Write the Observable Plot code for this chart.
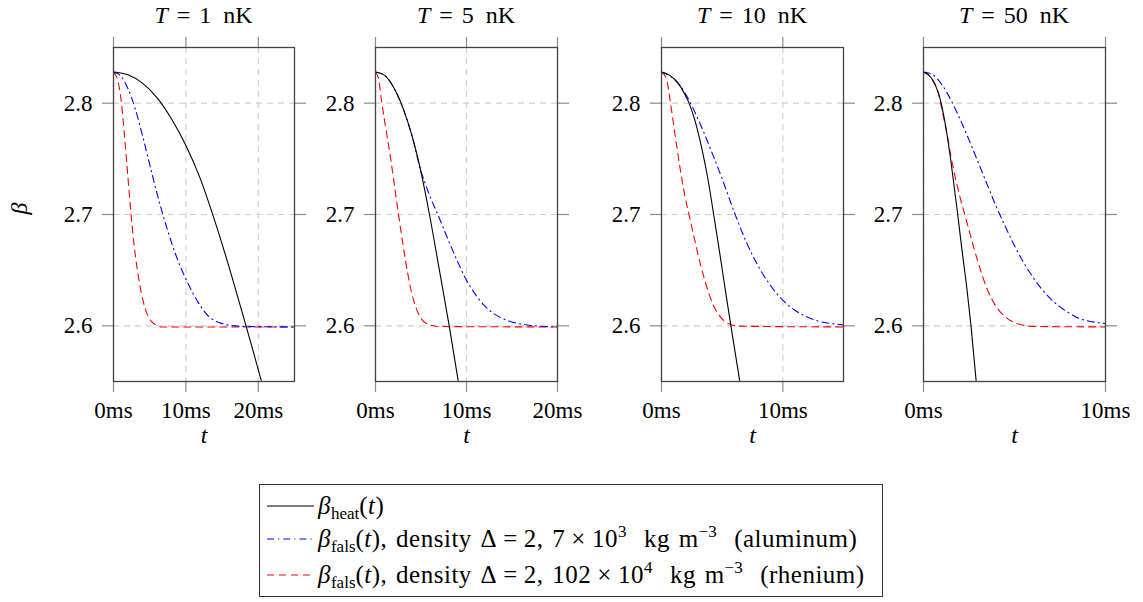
<!DOCTYPE html>
<html><head><meta charset="utf-8">
<script src="https://cdn.jsdelivr.net/npm/d3@7"></script>
<script src="https://cdn.jsdelivr.net/npm/@observablehq/plot@0.6"></script>
<style>
body{margin:0;background:#fff;color:#000;font-family:"Liberation Serif","Times New Roman",serif;}
#root{position:relative;width:1143px;height:602px;overflow:hidden;}
.title{position:absolute;top:3px;width:240px;font-size:24px;line-height:24px;text-align:center;white-space:nowrap;}
.title .eq{margin:0 9px;}
.plot{position:absolute;top:0;}
.legend{position:absolute;left:259px;top:484px;width:622px;height:111px;border:1px solid #333;font-size:25px;}
.row{position:absolute;left:0;height:30px;display:flex;align-items:center;white-space:nowrap;}
.row svg{margin-left:7px;margin-right:4px;}
.row > span{letter-spacing:0.5px;word-spacing:2px;}
.sb{font-size:17px;position:relative;top:5px;letter-spacing:0;}
.sp{font-size:17px;position:relative;top:-10px;letter-spacing:0;}
.op{margin:0 6px;}
</style></head><body><div id="root"></div><script>
// ---- data ----
const temps = [1, 5, 10, 50];                 // nK
const xMax = [25, 20, 15, 10];                // ms
const xTicks = [[0, 10, 20], [0, 10, 20], [0, 10], [0, 10]];
const yTicks = [2.6, 2.7, 2.8];

// T = 1 nK
const heatT1 = [[0,2.828],[2,2.8255],[4,2.818],[6,2.805],[8,2.786],[10,2.762],[12,2.732],[14,2.694],[16,2.652],[18,2.607],[19,2.584],[20.4,2.551]];
const alT1 = [[0,2.828],[1,2.8245],[2,2.813],[3,2.795],[4,2.771],[5,2.745],[6,2.719],[7,2.696],[8,2.675],[9,2.657],[10,2.642],[11,2.629],[12,2.618],[13,2.6095],[14,2.6045],[15,2.602],[16,2.6005],[18,2.5995],[25,2.599]];
const reT1 = [[0,2.828],[0.6,2.820],[1.1,2.800],[1.5,2.772],[2.0,2.733],[2.4,2.702],[2.8,2.675],[3.3,2.650],[3.8,2.631],[4.4,2.615],[5.0,2.606],[5.8,2.601],[6.6,2.599],[25,2.599]];
// T = 5 nK
const heatT5 = [[0,2.828],[1.0,2.825],[2.0,2.814],[3.0,2.796],[4.0,2.771],[5.0,2.738],[5.93,2.700],[7.0,2.651],[8.1,2.600],[9.08,2.551]];
const alT5 = [[0,2.828],[1.0,2.825],[2.0,2.814],[3.0,2.796],[4.0,2.771],[5.0,2.739],[5.5,2.727],[6.0,2.716],[6.9,2.699],[8.0,2.677],[9.0,2.658],[10.0,2.641],[11.0,2.628],[12.0,2.618],[13.0,2.611],[14.0,2.6065],[15.0,2.6035],[16.5,2.601],[18,2.5997],[20,2.599]];
const reT5 = [[0,2.828],[0.35,2.821],[0.7,2.800],[1.2,2.774],[1.69,2.749],[2.1,2.725],[2.53,2.700],[3.04,2.672],[3.52,2.648],[3.96,2.630],[4.51,2.615],[5.05,2.606],[5.79,2.6015],[6.89,2.5994],[20,2.599]];
// T = 10 nK
const heatT10 = [[0,2.828],[0.68,2.825],[1.37,2.818],[1.92,2.808],[2.27,2.800],[2.74,2.785],[3.29,2.761],[3.84,2.731],[4.30,2.700],[4.79,2.666],[5.29,2.630],[5.75,2.598],[6.44,2.551]];
const alT10 = [[0,2.828],[1,2.822],[2,2.808],[3,2.786],[4,2.760],[5,2.732],[6,2.702],[7,2.675],[8,2.653],[9,2.636],[10,2.623],[11,2.614],[12,2.608],[13,2.604],[14,2.602],[15,2.601]];
const reT10 = [[0,2.828],[0.4,2.822],[0.74,2.800],[1.10,2.773],[1.51,2.743],[1.92,2.717],[2.33,2.697],[2.74,2.677],[3.15,2.658],[3.70,2.636],[4.25,2.619],[4.79,2.609],[5.48,2.602],[6.44,2.5997],[15,2.599]];
// T = 50 nK
const heatT50 = [[0,2.828],[0.46,2.822],[0.82,2.809],[0.97,2.800],[1.28,2.773],[1.52,2.746],[1.74,2.718],[1.88,2.700],[2.10,2.670],[2.38,2.634],[2.61,2.600],[2.89,2.551]];
const alT50 = [[0,2.828],[0.5,2.8255],[1,2.817],[1.5,2.803],[2,2.786],[2.5,2.767],[3,2.747],[3.5,2.727],[4,2.707],[4.5,2.689],[5,2.672],[5.5,2.657],[6,2.644],[6.5,2.633],[7,2.624],[7.5,2.617],[8,2.6115],[8.5,2.607],[9,2.6045],[9.5,2.603],[10,2.602]];
const reT50 = [[0,2.828],[0.46,2.822],[0.82,2.809],[1.0,2.795],[1.25,2.776],[1.5,2.753],[1.75,2.733],[2.0,2.716],[2.25,2.701],[2.5,2.686],[2.75,2.671],[3.0,2.657],[3.5,2.633],[4.0,2.617],[4.5,2.608],[5.0,2.603],[5.5,2.6005],[6.0,2.5995],[10,2.599]];

const heat = [heatT1, heatT5, heatT10, heatT50];
const alu = [alT1, alT5, alT10, alT50];
const rhe = [reT1, reT5, reT10, reT50];

// ---- layout ----
const FONT = '"Liberation Serif", "Times New Roman", serif';
const frameL = [113, 375, 661, 923];
const frameW = [181, 182, 182, 182];
const root = document.getElementById("root");
const grid = {stroke: "#cfcfcf", strokeOpacity: 1, strokeWidth: 1.2, strokeDasharray: "6,5"};
const tickStroke = "#8a8a8a";

function panel(i) {
  const mL = i === 0 ? 113 : 60, mR = 20;
  const fw = frameW[i];
  const xy = {x: d => d[0], y: d => d[1], curve: "monotone-x", clip: true, strokeWidth: 1.1};
  const marks = [
    Plot.gridX(xTicks[i], grid),
    Plot.gridY(yTicks, grid),
    Plot.axisY(yTicks, {anchor: "left", tickSize: 11, tickPadding: 10, stroke: tickStroke, strokeWidth: 1.2, fill: "black", tickFormat: d => d.toFixed(1), label: null}),
    Plot.axisY(yTicks, {anchor: "right", tickSize: 11, stroke: tickStroke, strokeWidth: 1.2, tickFormat: () => "", label: null}),
    Plot.axisX(xTicks[i], {anchor: "bottom", tickSize: 11, tickPadding: 9, stroke: tickStroke, strokeWidth: 1.2, fill: "black", tickFormat: d => d + "ms", label: null}),
    Plot.axisX(xTicks[i], {anchor: "top", tickSize: 11, stroke: tickStroke, strokeWidth: 1.2, tickFormat: () => "", label: null}),
    Plot.line(rhe[i], {...xy, stroke: "#ff0000", strokeDasharray: "7,5"}),
    Plot.line(alu[i], {...xy, stroke: "#0000ff", strokeDasharray: "7,4,1.2,4"}),
    Plot.line(heat[i], {...xy, stroke: "#000"}),
    Plot.frame({stroke: "#444", strokeWidth: 1.3}),
    Plot.text(["t"], {frameAnchor: "bottom", dy: 61, fontStyle: "italic", fill: "black", fontSize: 24})
  ];
  if (i === 0) marks.push(Plot.text(["β"], {frameAnchor: "left", dx: -94, rotate: -90, fontStyle: "italic", fill: "black", fontSize: 24}));
  const svg = Plot.plot({
    width: mL + fw + mR, height: 460,
    marginLeft: mL, marginRight: mR, marginTop: 47, marginBottom: 79,
    style: {background: "transparent", overflow: "visible", fontSize: "23px", color: "black", maxWidth: "none"},
    x: {domain: [0, xMax[i]], axis: null},
    y: {domain: [2.55, 2.85], axis: null},
    marks
  });
  svg.classList.add("plot");
  svg.style.left = (frameL[i] - mL) + "px";
  svg.style.fontFamily = FONT;
  svg.setAttribute("font-family", FONT);
  root.appendChild(svg);
  const t = document.createElement("div");
  t.className = "title";
  t.style.left = (frameL[i] + fw / 2 - 120) + "px";
  t.innerHTML = `<i>T</i><span class="eq">=</span>${temps[i]}&nbsp; nK`;
  root.appendChild(t);
}
for (let i = 0; i < 4; i++) panel(i);

// ---- legend ----
const legendItems = [
  {stroke: "#000", dash: null, html: `<i>β</i><span class="sb">heat</span>(<i>t</i>)`},
  {stroke: "#0000ff", dash: "7,4,1.2,4", html: `<i>β</i><span class="sb">fals</span>(<i>t</i>), density Δ<span class="op">=</span>2, 7<span class="op">×</span>10<span class="sp">3</span>&nbsp; kg m<span class="sp">−3</span>&nbsp; (aluminum)`},
  {stroke: "#ff0000", dash: "7,5", html: `<i>β</i><span class="sb">fals</span>(<i>t</i>), density Δ<span class="op">=</span>2, 102<span class="op">×</span>10<span class="sp">4</span>&nbsp; kg m<span class="sp">−3</span>&nbsp; (rhenium)`}
];
const rowTops = [6, 39, 75];
const leg = document.createElement("div");
leg.className = "legend";
legendItems.forEach((it, k) => {
  const r = document.createElement("div");
  r.className = "row";
  r.style.top = rowTops[k] + "px";
  r.innerHTML = `<svg width="47" height="6"><line x1="0" x2="47" y1="3" y2="3" stroke="${it.stroke}" stroke-width="1.1" ${it.dash ? `stroke-dasharray="${it.dash}"` : ""}/></svg><span>${it.html}</span>`;
  leg.appendChild(r);
});
root.appendChild(leg);
</script></body></html>
